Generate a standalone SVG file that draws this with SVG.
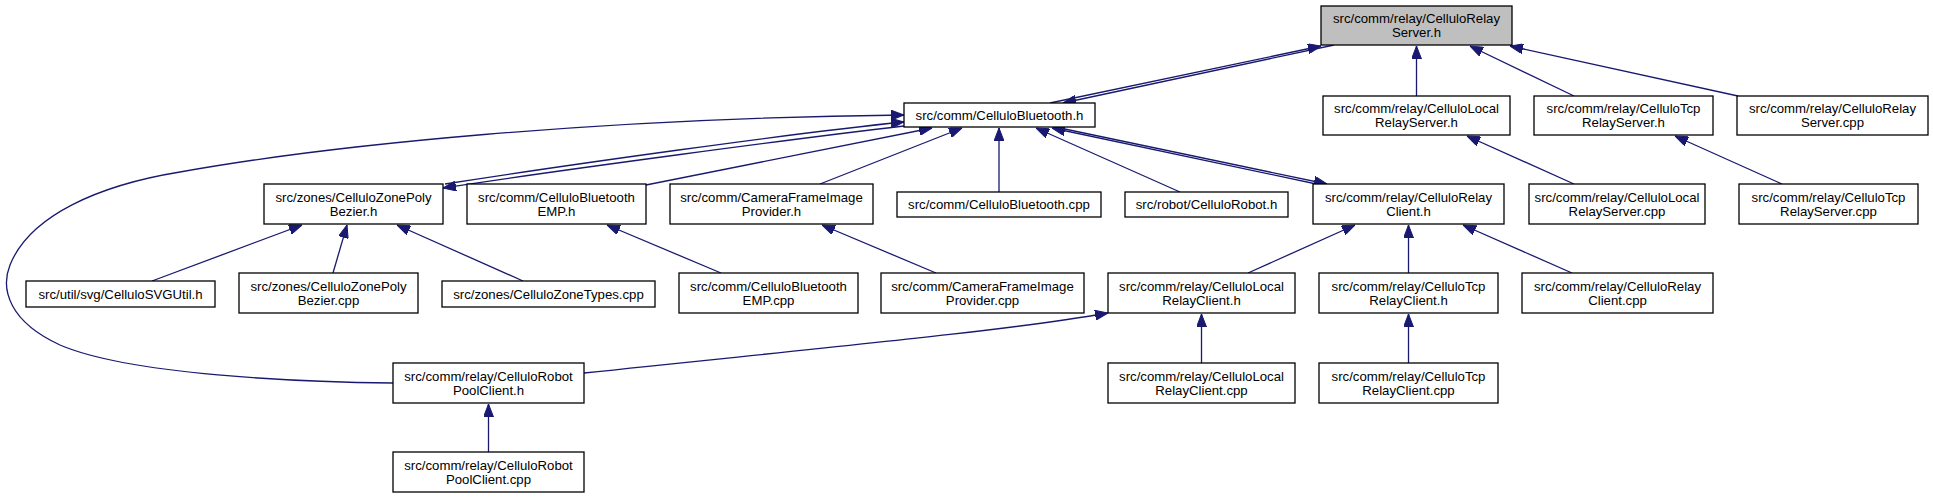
<svg xmlns="http://www.w3.org/2000/svg" width="1933" height="499" viewBox="0 0 1933 499">
<style>
.n rect{fill:#ffffff;stroke:#000000;stroke-width:1.3}
.n.root rect{fill:#bfbfbf}
.n text{font-family:"Liberation Sans",Arial,Helvetica,sans-serif;font-size:13.2px;fill:#000000;text-anchor:middle}
.e path{fill:none;stroke:#191970;stroke-width:1.3;marker-end:url(#arr)}
</style>
<defs>
<marker id="arr" markerUnits="userSpaceOnUse" viewBox="0 0 13 10" markerWidth="13" markerHeight="10" refX="13" refY="5" orient="auto">
<path d="M0,0 L13,5 L0,10 z" fill="#191970" stroke="#191970" stroke-width="1"/>
</marker>
</defs>
<rect x="0" y="0" width="1933" height="499" fill="#ffffff"/>
<g id="edges" class="e">
<path d="M1050,103 L1321,46"/>
<path d="M1334,45 L1063,103"/>
<path d="M904,126 C800,138 560,170 443,188"/>
<path d="M445,184 C560,166 800,132 904,122"/>
<path d="M646,185 L932,128"/>
<path d="M820,184 L962,128"/>
<path d="M999,192 L999,128"/>
<path d="M1180,192 L1036,128"/>
<path d="M1060,128 L1327,184"/>
<path d="M1321,185 L1052,128"/>
<path d="M393,383 C300,382 130,375 60,345 C10,322 0,290 10,265 C30,215 100,185 180,172 C330,145 600,118 904,115"/>
<path d="M1416.5,96 L1416.5,46"/>
<path d="M1574,96 L1470,46"/>
<path d="M1738,96 L1510,46"/>
<path d="M1574,184 L1467,136"/>
<path d="M1782,184 L1675,136"/>
<path d="M152,281 L302,225"/>
<path d="M333,273 L347,225"/>
<path d="M523,281 L397,225"/>
<path d="M721,273 L607,225"/>
<path d="M936,273 L822,225"/>
<path d="M1248,273 L1355,225"/>
<path d="M1408.5,273 L1408.5,225"/>
<path d="M1572,273 L1463,225"/>
<path d="M584,373 C800,350 1000,332 1108,313"/>
<path d="M1201.5,363 L1201.5,314"/>
<path d="M1408.5,363 L1408.5,314"/>
<path d="M488.5,452 L488.5,404"/>
</g>
<g id="n_relayserver_h" class="n root"><rect x="1321" y="6" width="191" height="39"/><text x="1416.5" y="23">src/comm/relay/CelluloRelay</text><text x="1416.5" y="37">Server.h</text></g>
<g id="n_bluetooth_h" class="n"><rect x="904" y="103" width="191" height="24"/><text x="999.5" y="119.5">src/comm/CelluloBluetooth.h</text></g>
<g id="n_localrelayserver_h" class="n"><rect x="1323" y="96" width="187" height="39"/><text x="1416.5" y="113">src/comm/relay/CelluloLocal</text><text x="1416.5" y="127">RelayServer.h</text></g>
<g id="n_tcprelayserver_h" class="n"><rect x="1534" y="96" width="179" height="39"/><text x="1623.5" y="113">src/comm/relay/CelluloTcp</text><text x="1623.5" y="127">RelayServer.h</text></g>
<g id="n_relayserver_cpp" class="n"><rect x="1737" y="96" width="191" height="39"/><text x="1832.5" y="113">src/comm/relay/CelluloRelay</text><text x="1832.5" y="127">Server.cpp</text></g>
<g id="n_zonepoly_h" class="n"><rect x="264" y="184" width="179" height="40"/><text x="353.5" y="201.5">src/zones/CelluloZonePoly</text><text x="353.5" y="215.5">Bezier.h</text></g>
<g id="n_emp_h" class="n"><rect x="467" y="184" width="179" height="40"/><text x="556.5" y="201.5">src/comm/CelluloBluetooth</text><text x="556.5" y="215.5">EMP.h</text></g>
<g id="n_camera_h" class="n"><rect x="670" y="184" width="203" height="40"/><text x="771.5" y="201.5">src/comm/CameraFrameImage</text><text x="771.5" y="215.5">Provider.h</text></g>
<g id="n_bluetooth_cpp" class="n"><rect x="897" y="192" width="204" height="25"/><text x="999" y="209">src/comm/CelluloBluetooth.cpp</text></g>
<g id="n_robot_h" class="n"><rect x="1125" y="192" width="163" height="25"/><text x="1206.5" y="209">src/robot/CelluloRobot.h</text></g>
<g id="n_relayclient_h" class="n"><rect x="1313" y="184" width="191" height="40"/><text x="1408.5" y="201.5">src/comm/relay/CelluloRelay</text><text x="1408.5" y="215.5">Client.h</text></g>
<g id="n_localrelayserver_cpp" class="n"><rect x="1529" y="184" width="176" height="40"/><text x="1617" y="201.5">src/comm/relay/CelluloLocal</text><text x="1617" y="215.5">RelayServer.cpp</text></g>
<g id="n_tcprelayserver_cpp" class="n"><rect x="1739" y="184" width="179" height="40"/><text x="1828.5" y="201.5">src/comm/relay/CelluloTcp</text><text x="1828.5" y="215.5">RelayServer.cpp</text></g>
<g id="n_svgutil_h" class="n"><rect x="26" y="281" width="189" height="26"/><text x="120.5" y="298.5">src/util/svg/CelluloSVGUtil.h</text></g>
<g id="n_zonepoly_cpp" class="n"><rect x="239" y="273" width="179" height="40"/><text x="328.5" y="290.5">src/zones/CelluloZonePoly</text><text x="328.5" y="304.5">Bezier.cpp</text></g>
<g id="n_zonetypes_cpp" class="n"><rect x="442" y="281" width="213" height="26"/><text x="548.5" y="298.5">src/zones/CelluloZoneTypes.cpp</text></g>
<g id="n_emp_cpp" class="n"><rect x="679" y="273" width="179" height="40"/><text x="768.5" y="290.5">src/comm/CelluloBluetooth</text><text x="768.5" y="304.5">EMP.cpp</text></g>
<g id="n_camera_cpp" class="n"><rect x="881" y="273" width="203" height="40"/><text x="982.5" y="290.5">src/comm/CameraFrameImage</text><text x="982.5" y="304.5">Provider.cpp</text></g>
<g id="n_localrelayclient_h" class="n"><rect x="1108" y="273" width="187" height="40"/><text x="1201.5" y="290.5">src/comm/relay/CelluloLocal</text><text x="1201.5" y="304.5">RelayClient.h</text></g>
<g id="n_tcprelayclient_h" class="n"><rect x="1319" y="273" width="179" height="40"/><text x="1408.5" y="290.5">src/comm/relay/CelluloTcp</text><text x="1408.5" y="304.5">RelayClient.h</text></g>
<g id="n_relayclient_cpp" class="n"><rect x="1522" y="273" width="191" height="40"/><text x="1617.5" y="290.5">src/comm/relay/CelluloRelay</text><text x="1617.5" y="304.5">Client.cpp</text></g>
<g id="n_poolclient_h" class="n"><rect x="393" y="363" width="191" height="40"/><text x="488.5" y="380.5">src/comm/relay/CelluloRobot</text><text x="488.5" y="394.5">PoolClient.h</text></g>
<g id="n_localrelayclient_cpp" class="n"><rect x="1108" y="363" width="187" height="40"/><text x="1201.5" y="380.5">src/comm/relay/CelluloLocal</text><text x="1201.5" y="394.5">RelayClient.cpp</text></g>
<g id="n_tcprelayclient_cpp" class="n"><rect x="1319" y="363" width="179" height="40"/><text x="1408.5" y="380.5">src/comm/relay/CelluloTcp</text><text x="1408.5" y="394.5">RelayClient.cpp</text></g>
<g id="n_poolclient_cpp" class="n"><rect x="393" y="452" width="191" height="40"/><text x="488.5" y="469.5">src/comm/relay/CelluloRobot</text><text x="488.5" y="483.5">PoolClient.cpp</text></g>
</svg>
